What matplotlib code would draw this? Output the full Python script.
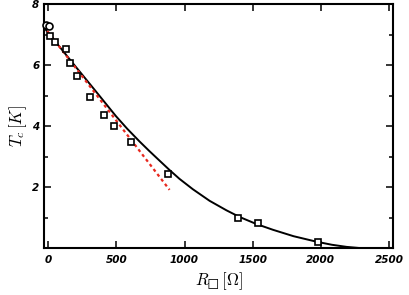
import matplotlib
matplotlib.use("Agg")
import matplotlib.pyplot as plt
from matplotlib.ticker import MultipleLocator

plt.rcParams['mathtext.fontset'] = 'cm'

# measured points (open circles = first two, squares = rest)
circ_R = [-20, 8]
circ_T = [7.32, 7.28]
sq_R = [12, 49, 127, 157, 208, 306, 407, 480, 608, 877, 1392, 1539, 1976]
sq_T = [6.94, 6.75, 6.53, 6.07, 5.63, 4.94, 4.38, 4.02, 3.47, 2.44, 1.00, 0.81, 0.19]

# solid fit curve
fit_R = [-40, 60, 179, 340, 498, 580, 669, 740, 816, 890, 963, 1061, 1184,
         1307, 1404, 1527, 1649, 1800, 1968, 2080, 2189, 2290]
fit_T = [7.28, 6.73, 6.07, 5.19, 4.32, 3.91, 3.50, 3.19, 2.87, 2.56, 2.27, 1.93, 1.55,
         1.24, 1.02, 0.79, 0.60, 0.39, 0.21, 0.11, 0.04, 0.0]

# red dashed linear extrapolation
lin_R = [-35, 890]
lin_T = [7.28, 1.91]

fig = plt.figure(figsize=(4.09, 2.95), dpi=100)
ax = fig.add_axes([0.108, 0.159, 0.853, 0.827])

ax.plot(fit_R, fit_T, color='black', linewidth=1.4, zorder=2)
ax.plot(lin_R, lin_T, color='#e8281e', linewidth=1.6, linestyle=(0, (1.4, 1.4)), zorder=3)
ax.plot(sq_R, sq_T, linestyle='none', marker='s', markersize=4.2,
        markerfacecolor='white', markeredgecolor='black', markeredgewidth=1.2, zorder=4)
ax.plot(circ_R, circ_T, linestyle='none', marker='o', markersize=5, clip_on=False,
        markerfacecolor='white', markeredgecolor='black', markeredgewidth=1.2, zorder=4)

ax.set_xlim(-30, 2530)
ax.set_ylim(0, 8)
ax.set_xticks([0, 500, 1000, 1500, 2000, 2500])
ax.set_yticks([2, 4, 6, 8])
ax.yaxis.set_minor_locator(MultipleLocator(1))

for s in ax.spines.values():
    s.set_linewidth(1.5)
ax.tick_params(which='both', direction='in', top=True, right=True, width=1.1)
ax.tick_params(which='major', length=5)
ax.tick_params(which='minor', length=3)
ax.tick_params(axis='x', pad=5)
for lab in ax.get_xticklabels() + ax.get_yticklabels():
    lab.set_fontsize(7.5)
    lab.set_fontweight('bold')
    lab.set_fontstyle('italic')

ax.set_xlabel('$R_{□}\\,[\\Omega]$', fontsize=12, labelpad=4)
ax.set_ylabel(r'$T_c\,[K]$', fontsize=12, labelpad=2)

fig.savefig('out.png', dpi=100)
